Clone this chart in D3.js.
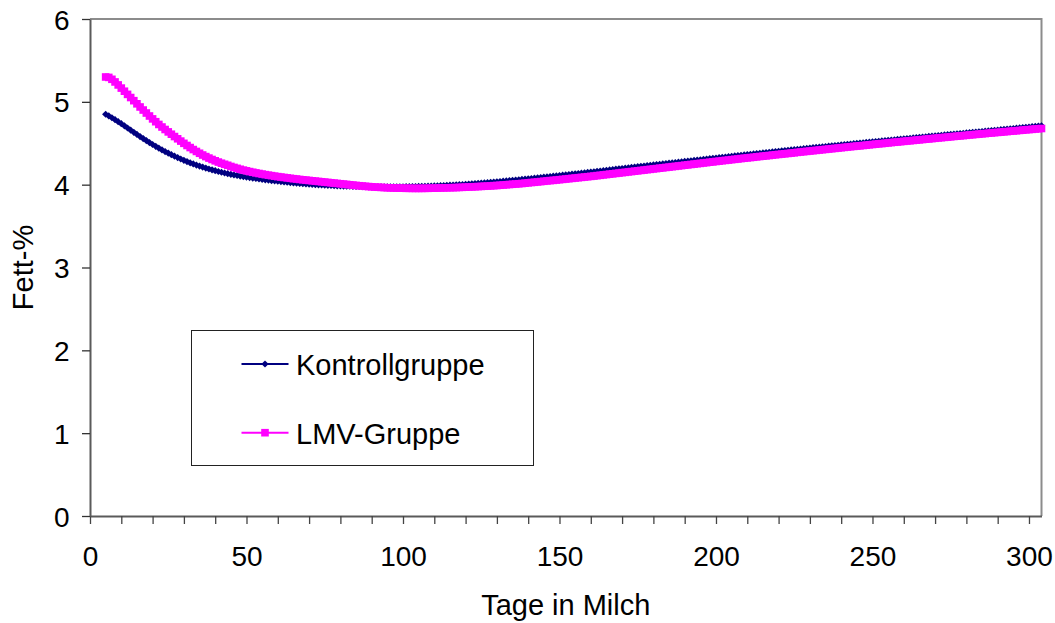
<!DOCTYPE html>
<html>
<head>
<meta charset="utf-8">
<script src="https://cdn.jsdelivr.net/npm/d3@7"></script>
<style>
  body { margin: 0; background: #fff; }
  svg { display: block; }
  text { font-family: "Liberation Sans", Arial, sans-serif; fill: #000; }
</style>
</head>
<body>
<svg id="chart" width="1055" height="623"></svg>
<script>
// Days in milk (one value per day)
const days = d3.range(5, 305);

// Milk fat (%) – control group
const kontroll = [
  4.850, 4.830, 4.808, 4.785, 4.761, 4.736,
  4.710, 4.684, 4.658, 4.632, 4.606, 4.581, 4.556, 4.532, 4.508, 4.485,
  4.463, 4.441, 4.420, 4.400, 4.381, 4.362, 4.344, 4.327, 4.310, 4.294,
  4.279, 4.264, 4.250, 4.237, 4.224, 4.212, 4.200, 4.189, 4.179, 4.169,
  4.159, 4.150, 4.141, 4.133, 4.125, 4.118, 4.111, 4.104, 4.098, 4.092,
  4.086, 4.080, 4.075, 4.069, 4.064, 4.059, 4.055, 4.050, 4.046, 4.041,
  4.037, 4.033, 4.029, 4.025, 4.021, 4.018, 4.015, 4.012, 4.009, 4.006,
  4.003, 4.000, 3.998, 3.996, 3.994, 3.992, 3.990, 3.988, 3.986, 3.985,
  3.983, 3.982, 3.981, 3.980, 3.979, 3.978, 3.977, 3.976, 3.976, 3.975,
  3.975, 3.974, 3.974, 3.974, 3.974, 3.974, 3.974, 3.974, 3.975, 3.975,
  3.976, 3.976, 3.977, 3.978, 3.979, 3.980, 3.981, 3.982, 3.984, 3.985,
  3.987, 3.988, 3.990, 3.992, 3.994, 3.996, 3.998, 4.000, 4.002, 4.005,
  4.007, 4.010, 4.013, 4.016, 4.019, 4.022, 4.025, 4.028, 4.032, 4.035,
  4.038, 4.042, 4.045, 4.049, 4.052, 4.056, 4.059, 4.063, 4.066, 4.070,
  4.074, 4.078, 4.082, 4.086, 4.090, 4.094, 4.098, 4.102, 4.106, 4.110,
  4.114, 4.118, 4.122, 4.127, 4.131, 4.135, 4.139, 4.144, 4.148, 4.152,
  4.156, 4.161, 4.165, 4.169, 4.174, 4.178, 4.182, 4.187, 4.191, 4.195,
  4.199, 4.204, 4.208, 4.212, 4.217, 4.221, 4.225, 4.230, 4.234, 4.238,
  4.242, 4.246, 4.251, 4.255, 4.259, 4.263, 4.267, 4.272, 4.276, 4.280,
  4.284, 4.288, 4.293, 4.297, 4.301, 4.305, 4.309, 4.314, 4.318, 4.322,
  4.326, 4.330, 4.334, 4.338, 4.343, 4.347, 4.351, 4.355, 4.359, 4.363,
  4.367, 4.371, 4.375, 4.379, 4.383, 4.387, 4.391, 4.395, 4.399, 4.403,
  4.407, 4.411, 4.415, 4.419, 4.423, 4.426, 4.430, 4.434, 4.438, 4.442,
  4.446, 4.450, 4.453, 4.457, 4.461, 4.465, 4.469, 4.472, 4.476, 4.480,
  4.484, 4.487, 4.491, 4.495, 4.498, 4.502, 4.506, 4.510, 4.513, 4.517,
  4.521, 4.524, 4.528, 4.531, 4.535, 4.539, 4.542, 4.546, 4.549, 4.553,
  4.557, 4.560, 4.564, 4.567, 4.571, 4.575, 4.578, 4.582, 4.585, 4.589,
  4.593, 4.596, 4.600, 4.603, 4.607, 4.611, 4.614, 4.618, 4.621, 4.625,
  4.628, 4.632, 4.635, 4.639, 4.642, 4.646, 4.649, 4.653, 4.656, 4.660,
  4.664, 4.667, 4.671, 4.674, 4.678, 4.682, 4.685, 4.689, 4.692, 4.696,
  4.700, 4.703, 4.707, 4.710
];

// Milk fat (%) – LMV group
const lmv = [
  5.300, 5.295, 5.272, 5.240, 5.204, 5.166,
  5.128, 5.090, 5.052, 5.014, 4.976, 4.938, 4.901, 4.865, 4.829, 4.794,
  4.760, 4.727, 4.696, 4.666, 4.637, 4.609, 4.581, 4.554, 4.526, 4.499,
  4.473, 4.448, 4.424, 4.401, 4.379, 4.358, 4.339, 4.321, 4.304, 4.288,
  4.273, 4.259, 4.246, 4.234, 4.220, 4.208, 4.197, 4.186, 4.176, 4.167,
  4.158, 4.150, 4.142, 4.135, 4.128, 4.121, 4.115, 4.109, 4.103, 4.097,
  4.092, 4.087, 4.082, 4.077, 4.072, 4.068, 4.063, 4.059, 4.055, 4.051,
  4.047, 4.043, 4.039, 4.035, 4.031, 4.027, 4.023, 4.019, 4.015, 4.011,
  4.007, 4.003, 3.999, 3.995, 3.991, 3.987, 3.984, 3.980, 3.977, 3.974,
  3.971, 3.969, 3.967, 3.965, 3.963, 3.961, 3.960, 3.959, 3.958, 3.957,
  3.956, 3.956, 3.955, 3.955, 3.955, 3.955, 3.956, 3.956, 3.957, 3.958,
  3.959, 3.960, 3.961, 3.962, 3.963, 3.964, 3.965, 3.967, 3.968, 3.970,
  3.972, 3.973, 3.975, 3.977, 3.979, 3.981, 3.983, 3.985, 3.988, 3.990,
  3.993, 3.996, 3.999, 4.002, 4.005, 4.008, 4.011, 4.014, 4.018, 4.022,
  4.026, 4.029, 4.033, 4.037, 4.041, 4.045, 4.049, 4.052, 4.056, 4.060,
  4.064, 4.068, 4.072, 4.076, 4.080, 4.084, 4.088, 4.092, 4.096, 4.100,
  4.104, 4.109, 4.113, 4.118, 4.122, 4.127, 4.131, 4.136, 4.140, 4.145,
  4.149, 4.154, 4.158, 4.163, 4.167, 4.172, 4.176, 4.181, 4.185, 4.190,
  4.194, 4.199, 4.203, 4.208, 4.212, 4.217, 4.221, 4.226, 4.230, 4.235,
  4.239, 4.244, 4.248, 4.253, 4.257, 4.262, 4.266, 4.271, 4.275, 4.280,
  4.284, 4.289, 4.293, 4.297, 4.302, 4.306, 4.310, 4.315, 4.319, 4.323,
  4.327, 4.331, 4.336, 4.340, 4.344, 4.348, 4.352, 4.357, 4.361, 4.365,
  4.369, 4.373, 4.377, 4.381, 4.385, 4.390, 4.394, 4.398, 4.402, 4.406,
  4.410, 4.414, 4.418, 4.422, 4.426, 4.430, 4.434, 4.438, 4.442, 4.446,
  4.450, 4.454, 4.458, 4.462, 4.466, 4.469, 4.473, 4.477, 4.481, 4.485,
  4.489, 4.493, 4.496, 4.500, 4.504, 4.508, 4.512, 4.515, 4.519, 4.523,
  4.527, 4.530, 4.534, 4.538, 4.541, 4.545, 4.549, 4.552, 4.556, 4.560,
  4.564, 4.567, 4.571, 4.574, 4.578, 4.582, 4.585, 4.589, 4.592, 4.596,
  4.600, 4.603, 4.607, 4.610, 4.614, 4.617, 4.621, 4.624, 4.628, 4.631,
  4.634, 4.638, 4.641, 4.645, 4.648, 4.651, 4.655, 4.658, 4.662, 4.665,
  4.668, 4.672, 4.675, 4.678
];

const seriesNames = ["Kontrollgruppe", "LMV-Gruppe"];
const xTicks = d3.range(0, 301, 10);
const xLabels = [0, 50, 100, 150, 200, 250, 300];
const yTicks = [0, 1, 2, 3, 4, 5, 6];
const xTitle = "Tage in Milch";
const yTitle = "Fett-%";

const FONT = '"Liberation Sans", Arial, sans-serif';
const svg = d3.select("#chart");
const box = { left: 90, right: 1041.5, top: 19, bottom: 516 };

const x = d3.scaleLinear().domain([0, 304]).range([box.left, box.right]);
const y = d3.scaleLinear().domain([0, 6]).range([box.bottom, box.top]);

// plot frame (top and right edges)
svg.append("path")
  .attr("d", `M${box.left},${box.top}H${box.right}V${box.bottom}`)
  .attr("fill", "none").attr("stroke", "#8c8c8c").attr("stroke-width", 2);

// x axis
const gx = svg.append("g")
  .attr("transform", `translate(0,${box.bottom})`)
  .call(d3.axisBottom(x).tickValues(xTicks).tickSize(8).tickSizeOuter(0)
    .tickFormat(d => xLabels.includes(d) ? d3.format("d")(d) : ""));
gx.select(".domain").attr("stroke", "#5a5a5a").attr("stroke-width", 2);
gx.selectAll(".tick line").attr("stroke", "#444").attr("stroke-width", 1.3);
gx.selectAll(".tick text")
  .attr("y", 50).attr("dy", 0)
  .style("font-size", "28px").style("font-family", FONT)
  .attr("fill", "#000");

// y axis
const gy = svg.append("g")
  .attr("transform", `translate(${box.left},0)`)
  .call(d3.axisLeft(y).tickValues(yTicks).tickSize(8).tickSizeOuter(0)
    .tickFormat(d3.format("d")));
gy.select(".domain").attr("stroke", "#5a5a5a").attr("stroke-width", 2);
gy.selectAll(".tick line").attr("stroke", "#333").attr("stroke-width", 1.3);
gy.selectAll(".tick text")
  .attr("x", -20.5).attr("dy", "0.36em")
  .style("font-size", "28px").style("font-family", FONT)
  .attr("fill", "#000");

// axis titles
svg.append("text")
  .attr("x", (box.left + box.right) / 2).attr("y", 615)
  .attr("text-anchor", "middle").style("font-size", "29px")
  .text(xTitle);
svg.append("text")
  .attr("transform", `translate(33,${(box.top + box.bottom) / 2}) rotate(-90)`)
  .attr("text-anchor", "middle").style("font-size", "29px")
  .text(yTitle);

// marker shapes
const diamond = r => `M0,${-r}L${r},0L0,${r}L${-r},0Z`;
const square = s => `M${-s / 2},${-s / 2}h${s}v${s}h${-s}Z`;

const series = [
  { name: seriesNames[0], values: kontroll, color: "#000080", marker: diamond(3.6) },
  { name: seriesNames[1], values: lmv, color: "#FF00FF", marker: square(7.6) }
];

const line = d3.line().x(d => x(d[0])).y(d => y(d[1]));

series.forEach(s => {
  const pts = days.map((d, i) => [d, s.values[i]]);
  const g = svg.append("g");
  g.append("path")
    .attr("d", line(pts))
    .attr("fill", "none").attr("stroke", s.color).attr("stroke-width", 2);
  g.selectAll("path.m").data(pts).join("path")
    .attr("class", "m")
    .attr("transform", d => `translate(${x(d[0])},${y(d[1])})`)
    .attr("d", s.marker)
    .attr("fill", s.color);
});

// legend
const lg = svg.append("g");
lg.append("rect")
  .attr("x", 191.5).attr("y", 330.5).attr("width", 342).attr("height", 135)
  .attr("fill", "#fff").attr("stroke", "#222").attr("stroke-width", 1);
series.forEach((s, i) => {
  const cy = 364 + i * 68.7;
  lg.append("line")
    .attr("x1", 241.5).attr("x2", 288.5).attr("y1", cy).attr("y2", cy)
    .attr("stroke", s.color).attr("stroke-width", 2);
  lg.append("path")
    .attr("transform", `translate(265,${cy})`)
    .attr("d", s.marker).attr("fill", s.color);
  lg.append("text")
    .attr("x", 296).attr("y", cy + 11)
    .style("font-size", "29px")
    .text(s.name);
});
</script>
</body>
</html>
